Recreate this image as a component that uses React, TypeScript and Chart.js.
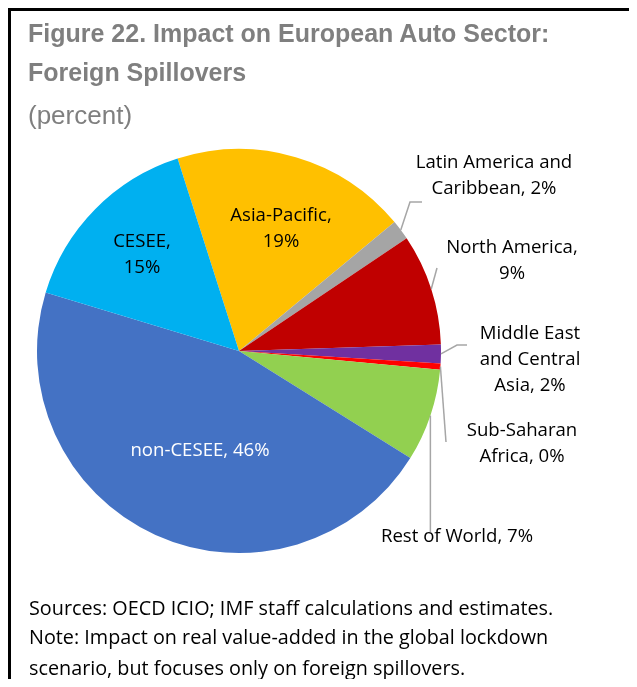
import React, { useEffect, useRef } from "react";
import { Chart, registerables } from "chart.js";

Chart.register(...registerables);

const categories = [
  "Asia-Pacific",
  "Latin America and Caribbean",
  "North America",
  "Middle East and Central Asia",
  "Sub-Saharan Africa",
  "Rest of World",
  "non-CESEE",
  "CESEE",
];
const values = [18.9, 1.6, 8.9, 1.5, 0.5, 7.4, 45.8, 15.4];
const shownPercents = ["19%", "2%", "9%", "2%", "0%", "7%", "46%", "15%"];
const colors = ["#FFC000", "#A5A5A5", "#C00000", "#7030A0", "#FF0000", "#92D050", "#4472C4", "#00B0F0"];
const labelLines = [
  ["Asia-Pacific,", shownPercents[0]],
  ["Latin America and", "Caribbean, " + shownPercents[1]],
  ["North America,", shownPercents[2]],
  ["Middle East", "and Central", "Asia, " + shownPercents[3]],
  ["Sub-Saharan", "Africa, " + shownPercents[4]],
  ["Rest of World, " + shownPercents[5]],
  ["non-CESEE, " + shownPercents[6]],
  ["CESEE,", shownPercents[7]],
];

// label layout (canvas coordinates): center x, first line center y, leader polyline start
const labelLayout = [
  { x: 273, y: 208, color: "#000", leader: null },
  { x: 486, y: 155, color: "#000", leader: [[414, 194], [402, 194]] },
  { x: 504, y: 240, color: "#000", leader: [[429, 260]] },
  { x: 522, y: 326, color: "#000", leader: [[459, 337], [449, 337]] },
  { x: 514, y: 423, color: "#000", leader: [[438, 434]] },
  { x: 449, y: 529, color: "#000", leader: "vertical" },
  { x: 192, y: 443, color: "#fff", leader: null },
  { x: 134, y: 234, color: "#000", leader: null },
];

const LINE_H = 26;

const labelPlugin = {
  id: "sliceLabels",
  afterDatasetsDraw(chart: any) {
    const ctx = chart.ctx;
    const meta = chart.getDatasetMeta(0);
    ctx.save();
    meta.data.forEach((arc: any, i: number) => {
      const p = arc.getProps(["x", "y", "startAngle", "endAngle", "outerRadius"], true);
      const mid = (p.startAngle + p.endAngle) / 2;
      const ex = p.x + Math.cos(mid) * p.outerRadius;
      const ey = p.y + Math.sin(mid) * p.outerRadius;
      const lay = labelLayout[i];
      if (lay.leader) {
        ctx.strokeStyle = "#A6A6A6";
        ctx.lineWidth = 1.5;
        ctx.beginPath();
        if (lay.leader === "vertical") {
          ctx.moveTo(ex, 524);
          ctx.lineTo(ex, ey);
        } else {
          const pts = lay.leader as number[][];
          ctx.moveTo(pts[0][0], pts[0][1]);
          for (let k = 1; k < pts.length; k++) ctx.lineTo(pts[k][0], pts[k][1]);
          ctx.lineTo(ex, ey);
        }
        ctx.stroke();
      }
      ctx.fillStyle = lay.color;
      ctx.font = '18.6px "Open Sans", "Noto Sans", sans-serif';
      ctx.textAlign = "center";
      ctx.textBaseline = "middle";
      labelLines[i].forEach((t, k) => {
        ctx.fillText(t, lay.x, lay.y + k * LINE_H);
      });
    });
    ctx.restore();
  },
};

export default function App() {
  const ref = useRef<HTMLCanvasElement | null>(null);
  useEffect(() => {
    if (!ref.current) return;
    const chart = new Chart(ref.current, {
      type: "pie",
      data: {
        labels: categories,
        datasets: [
          {
            data: values,
            backgroundColor: colors,
            borderWidth: 0,
          },
        ],
      },
      options: {
        responsive: false,
        animation: false,
        rotation: -17.7,
        layout: { padding: { left: 29, top: 141, right: 196, bottom: 126 } },
        plugins: {
          legend: { display: false },
          tooltip: { enabled: false },
          title: { display: false },
        },
      },
      plugins: [labelPlugin],
    });
    return () => chart.destroy();
  }, []);

  const grey = "#7F7F7F";
  return (
    <div style={{ position: "relative", width: 629, height: 671, overflow: "hidden" }}>
      <div
        style={{
          position: "absolute",
          left: 0,
          top: 0,
          width: 626,
          height: 668,
          borderTop: "3px solid #000",
          borderLeft: "3px solid #000",
        }}
      />
      <canvas ref={ref} width={629} height={671} style={{ position: "absolute", left: 0, top: 0 }} />
      <div
        style={{
          position: "absolute",
          left: 20,
          top: 6,
          fontFamily: '"Liberation Sans", Arial, sans-serif',
          fontWeight: "bold",
          fontSize: 25,
          lineHeight: "39px",
          color: grey,
          whiteSpace: "nowrap",
        }}
      >
        <div>Figure 22. Impact on European Auto Sector:</div>
        <div>Foreign Spillovers</div>
      </div>
      <div
        style={{
          position: "absolute",
          left: 20,
          top: 92,
          fontFamily: '"Liberation Sans", Arial, sans-serif',
          fontSize: 26,
          lineHeight: "30px",
          color: grey,
          whiteSpace: "nowrap",
        }}
      >
        (percent)
      </div>
      <div
        style={{
          position: "absolute",
          left: 21,
          top: 585,
          fontFamily: '"Open Sans", "Noto Sans", sans-serif',
          fontSize: 19.8,
          color: "#000",
          whiteSpace: "nowrap",
        }}
      >
        <div style={{ lineHeight: "29px" }}>Sources: OECD ICIO; IMF staff calculations and estimates.</div>
        <div style={{ lineHeight: "29px" }}>Note: Impact on real value-added in the global lockdown</div>
        <div style={{ lineHeight: "33px" }}>scenario, but focuses only on foreign spillovers.</div>
      </div>
    </div>
  );
}
